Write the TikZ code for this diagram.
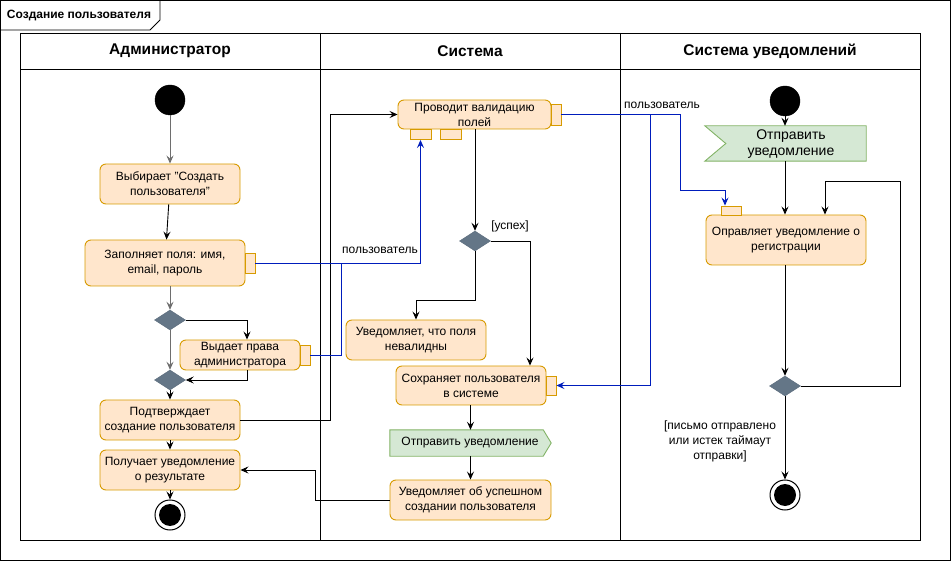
\documentclass[tikz,border=0pt]{standalone}
\usepackage{fontspec}
\setmainfont{Liberation Sans}
\usetikzlibrary{arrows.meta,shapes.geometric,calc}
\definecolor{actF}{HTML}{FFE6CC}
\definecolor{actD}{HTML}{D79B00}
\definecolor{sigF}{HTML}{D5E8D4}
\definecolor{sigD}{HTML}{82B366}
\definecolor{decF}{HTML}{647687}
\definecolor{decD}{HTML}{5A6A7B}
\definecolor{flowB}{HTML}{001DBC}
\definecolor{flowG}{HTML}{6E6E6E}
\begin{document}
\begin{tikzpicture}[x=1pt,y=-1pt,
  txt/.style={font=\fontsize{12}{15}\selectfont, align=center},
  act/.style={txt, draw=actD, fill=actF, rounded corners=6pt, line width=0.9pt, inner sep=0pt},
  pinbox/.style={draw=actD, fill=actF, line width=0.9pt, inner sep=0pt, minimum width=10, minimum height=20},
  dec/.style={diamond, draw=decD, fill=decF, inner sep=0pt, minimum width=31, minimum height=20},
  startnode/.style={circle, fill=black, draw=black, minimum size=30, inner sep=0pt},
  endnode/.style={circle, draw=black, fill=white, line width=1pt, minimum size=30, inner sep=0pt},
  hdr/.style={font=\fontsize{15.5}{18}\selectfont\bfseries},
  arr/.style={line width=0.9pt, -{Stealth[length=8pt,width=7pt,inset=3pt]}},
  plain/.style={line width=0.9pt},
  gray arr/.style={arr, draw=flowG},
  blue arr/.style={arr, draw=flowB},
  blue line/.style={plain, draw=flowB},
  sigshape/.style={draw=sigD, fill=sigF, line width=0.9pt},
  ghost/.style={txt, inner sep=0pt}
]
\useasboundingbox (0,0) rectangle (951,561);
% outer frame and title tab
\draw[line width=0.9pt] (0.5,0.5) rectangle (950,560);
\draw[line width=0.9pt] (0.5,30) -- (150,30) -- (160,20) -- (160,0.5);
\node[font=\fontsize{12}{14}\selectfont\bfseries] (title) at (79,16) {Создание пользователя};
% pool and lanes
\draw[line width=0.9pt] (20,33) rectangle (920,540);
\draw[line width=0.9pt] (20,69) -- (920,69);
\draw[line width=0.9pt] (320,33) -- (320,540);
\draw[line width=0.9pt] (620,33) -- (620,540);
\node[hdr] (h1) at (170,51) {Администратор};
\node[hdr] (h2) at (470,51) {Система};
\node[hdr] (h3) at (770,51) {Система уведомлений};

% ---- Administrator lane
\node[startnode] (i1) at (170,100) {};
\node[act, minimum width=140, minimum height=40] (b1) at (170,184) {Выбирает "Создать\\пользователя"};
\node[act, minimum width=160, minimum height=46] (b2) at (165,263) {Заполняет поля: имя,\\email, пароль};
\node[pinbox] (p2) at (250,263) {};
\node[dec] (d1) at (170,320) {};
\node[act, minimum width=120, minimum height=30] (b3) at (240,355) {Выдает права\\администратора};
\node[pinbox] (p3) at (305,355) {};
\node[dec] (d2) at (170,380) {};
\node[act, minimum width=140, minimum height=40] (b4) at (170,420) {Подтверждает\\создание пользователя};
\node[act, minimum width=140, minimum height=40] (b5) at (170,470) {Получает уведомление\\о результате};
\node[endnode] (f1) at (170,515) {};
\fill (f1.center) circle (11);

% ---- System lane
\node[act, minimum width=153, minimum height=29] (v) at (474.5,114.5) {Проводит валидацию\\полей};
\node[pinbox, minimum width=10, minimum height=21] (vp1) at (556,114.5) {};
\node[pinbox, minimum width=21, minimum height=10] (vp2) at (420.5,134.5) {};
\node[pinbox, minimum width=21, minimum height=10] (vp3) at (450.5,134.5) {};
\node[dec] (d3) at (475,241) {};
\node[txt] (lsucc) at (510,226) {[успех]};
\node[act, minimum width=140, minimum height=40] (b6) at (416,340) {Уведомляет, что поля\\невалидны};
\node[act, minimum width=150, minimum height=39] (b7) at (471,385.5) {Сохраняет пользователя\\в системе};
\node[pinbox, minimum width=10, minimum height=19] (b7p) at (551,385.5) {};
\node[ghost, minimum width=161, minimum height=26] (s1) at (470.5,443) {};
\draw[sigshape] (s1.north west) -- ([xshift=-8pt]s1.north east) -- (s1.east) -- ([xshift=-8pt]s1.south east) -- (s1.south west) -- cycle;
\node[txt] (s1t) at (470,443) {Отправить уведомление};
\node[act, minimum width=161, minimum height=40] (b8) at (470.5,500) {Уведомляет об успешном\\создании пользователя};

% ---- Notification lane
\node[startnode] (i2) at (785,101) {};
\node[ghost, minimum width=161, minimum height=35] (s2) at (785.5,143.5) {};
\draw[sigshape] (s2.north west) -- (s2.north east) -- (s2.south east) -- (s2.south west) -- ([xshift=21pt]s2.west) -- cycle;
\node[font=\fontsize{14}{16}\selectfont, align=center] (s2t) at (791,144) {Отправить\\уведомление};
\node[act, minimum width=160, minimum height=50] (b9) at (786,240) {Оправляет уведомление о\\регистрации};
\node[pinbox, minimum width=20, minimum height=9] (b9p) at (731,210.5) {};
\node[dec] (d4) at (785,386) {};
\node[endnode] (f2) at (785,495) {};
\fill (f2.center) circle (11);
\node[txt] (lguard) at (720,441) {[письмо отправлено\\или истек таймаут\\отправки]};

% ---- labels for object flows
\node[txt] (lu1) at (380,250) {пользователь};
\node[txt] (lu2) at (662,105) {пользователь};

% ---- control flows, admin
\draw[gray arr] (i1) -- (b1);
\draw[arr] (b1) -- (b2);
\draw[gray arr] (b2.south -| d1.north) -- (d1.north);
\draw[arr] (d1.east) -| ([xshift=7pt]b3.north);
\draw[arr] ([xshift=7pt]b3.south) |- (d2.east);
\draw[gray arr] (d1.south) -- (d2.north);
\draw[arr] (d2.south) -- (b4.north);
\draw[arr] (b4.south) -- (b5.north);
\draw[arr] (b5.south) -- (f1.north);
\draw[arr] (b4.east) -- ++(90,0) |- (v.west);
\draw[arr] (b8.west) -- ++(-74,0) |- (b5.east);

% ---- object flows
\draw[blue arr] (p2.east) -| (vp2.south);
\draw[blue line] (p3.east) -- ++(31,0) -- ++(0,-92);
\coordinate (bj) at (680,114.5);
\draw[blue arr] (vp1.east) -- (bj) |- ([xshift=-6pt,yshift=15pt]b9p.north) -- ([xshift=-6pt]b9p.north);
\draw[blue arr] ([xshift=89pt]vp1.east) |- (b7p.east);

% ---- control flows, system
\draw[arr] (v.south -| d3.north) -- (d3.north);
\draw[arr] (d3.east) -| ([xshift=59pt]b7.north);
\draw[arr] (d3.south) -- ++(0,49) -| (b6.north);
\draw[arr] (b7.south -| s1.north) -- (s1.north);
\draw[arr] (s1.south) -- (b8.north);

% ---- control flows, notifications
\draw[arr] (i2) -- (s2.north -| i2);
\draw[arr] (s2.south -| i2) -- (b9.north -| i2);
\draw[arr] (b9.south -| d4.north) -- (d4.north);
\coordinate (lp) at (900,181);
\draw[arr] (d4.east) -| (lp) -| ([xshift=39pt]b9.north);
\draw[arr] (d4.south) -- (f2.north);
\end{tikzpicture}
\end{document}
